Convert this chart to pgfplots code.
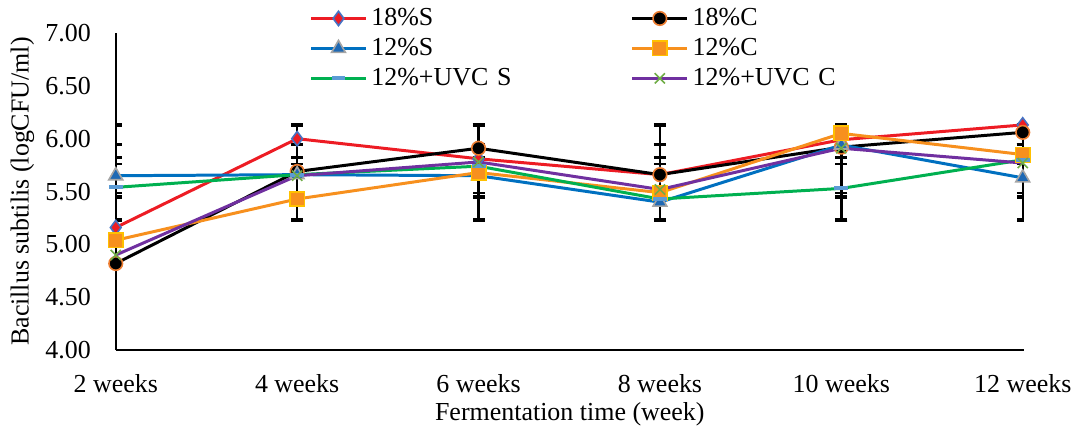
\documentclass[border=0pt]{standalone}
\usepackage{fontspec}
\setmainfont{Liberation Serif}
\usepackage{pgfplots}
\pgfplotsset{compat=1.18}
\definecolor{cRed}{RGB}{237,28,36}
\definecolor{cEdgeBlue}{RGB}{68,114,196}
\definecolor{cOrEdge}{RGB}{237,125,49}
\definecolor{cBlue}{RGB}{0,112,192}
\definecolor{cTri}{RGB}{31,105,180}
\definecolor{cGray}{RGB}{165,165,165}
\definecolor{cOrange}{RGB}{247,144,30}
\definecolor{cGold}{RGB}{255,192,0}
\definecolor{cGreen}{RGB}{0,176,80}
\definecolor{cSteel}{RGB}{91,155,213}
\definecolor{cPurple}{RGB}{112,48,160}
\definecolor{cGreenX}{RGB}{112,173,71}
\begin{document}
\fontsize{13pt}{15pt}\selectfont
\begin{tikzpicture}
\begin{axis}[
  scale only axis, width=455pt, height=159pt,
  xmin=0, xmax=5.006, ymin=4, ymax=7,
  axis lines*=left,
  axis line style={black, line width=1pt},
  xtick={0,1,2,3,4,5},
  xticklabels={2 weeks,4 weeks,6 weeks,8 weeks,10 weeks,12 weeks},
  ytick={4,4.5,5,5.5,6,6.5,7},
  yticklabel style={/pgf/number format/fixed, /pgf/number format/fixed zerofill, /pgf/number format/precision=2, xshift=-8pt},
  /pgf/number format/assume math mode=true,
  major tick length=0pt,
  tick label style={font=\fontsize{13pt}{15pt}\selectfont},
  xticklabel style={yshift=-7.5pt},
  label style={font=\fontsize{13pt}{15pt}\selectfont},
  xlabel={Fermentation time (week)},
  ylabel={Bacillus subtilis (logCFU/ml)},
  xlabel style={yshift=4pt},
  ylabel style={inner sep=0pt},
  ylabel shift=1pt,
  legend columns=2,
  legend image code/.code={\draw[mark repeat=2,mark phase=2,#1] plot coordinates {(0pt,0pt) (13.75pt,0pt) (27.5pt,0pt)};},
  legend style={draw=none, fill=none, inner sep=0pt, at={(0.213,1.094)}, anchor=north west,
    font=\fontsize{13pt}{15pt}\selectfont,
    nodes={inner xsep=2pt, inner ysep=0pt, text height=11pt, text depth=4pt, text width=128pt, align=left},
    cells={anchor=west}, row sep=0pt},
  error bars/y dir=both, error bars/y explicit,
  error bars/error bar style={draw=black, line width=1.2pt},
  error bars/error mark options={draw=black, line width=1.2pt, mark size=3pt, rotate=90},
]
% error bars (series mean +- SD, drawn at every category)
\addplot[draw=none, mark=none, forget plot] coordinates {(0,5.79) +- (0,0.35) (1,5.79) +- (0,0.35) (2,5.79) +- (0,0.35) (3,5.79) +- (0,0.35) (4,5.79) +- (0,0.35) (5,5.79) +- (0,0.35)};
\addplot[draw=none, mark=none, forget plot] coordinates {(0,5.675) +- (0,0.447) (1,5.675) +- (0,0.447) (2,5.675) +- (0,0.447) (3,5.675) +- (0,0.447) (4,5.675) +- (0,0.447) (5,5.675) +- (0,0.447)};
\addplot[draw=none, mark=none, forget plot] coordinates {(0,5.655) +- (0,0.168) (1,5.655) +- (0,0.168) (2,5.655) +- (0,0.168) (3,5.655) +- (0,0.168) (4,5.655) +- (0,0.168) (5,5.655) +- (0,0.168)};
\addplot[draw=none, mark=none, forget plot] coordinates {(0,5.59) +- (0,0.354) (1,5.59) +- (0,0.354) (2,5.59) +- (0,0.354) (3,5.59) +- (0,0.354) (4,5.59) +- (0,0.354) (5,5.59) +- (0,0.354)};
\addplot[draw=none, mark=none, forget plot] coordinates {(0,5.61) +- (0,0.15) (1,5.61) +- (0,0.15) (2,5.61) +- (0,0.15) (3,5.61) +- (0,0.15) (4,5.61) +- (0,0.15) (5,5.61) +- (0,0.15)};
\addplot[draw=none, mark=none, forget plot] coordinates {(0,5.589) +- (0,0.363) (1,5.589) +- (0,0.363) (2,5.589) +- (0,0.363) (3,5.589) +- (0,0.363) (4,5.589) +- (0,0.363) (5,5.589) +- (0,0.363)};
% series
\addplot[cRed, line width=1.5pt, mark=diamond*, mark size=3.6pt, mark options={fill=cRed, draw=cEdgeBlue, line width=0.8pt, solid}, error bars/y dir=none]
  coordinates {(0,5.16) (1,6.00) (2,5.81) (3,5.66) (4,5.99) (5,6.13)};
\addlegendentry{18\%S}
\addplot[black, line width=1.5pt, mark=*, mark size=3.4pt, mark options={fill=black, draw=cOrEdge, line width=0.8pt, solid}, error bars/y dir=none]
  coordinates {(0,4.82) (1,5.69) (2,5.91) (3,5.66) (4,5.92) (5,6.06)};
\addlegendentry{18\%C}
\addplot[cBlue, line width=1.5pt, mark=triangle*, mark size=4pt, mark options={fill=cTri, draw=cGray, line width=0.8pt, solid}, error bars/y dir=none]
  coordinates {(0,5.65) (1,5.66) (2,5.65) (3,5.40) (4,5.94) (5,5.63)};
\addlegendentry{12\%S}
\addplot[cOrange, line width=1.5pt, mark=square*, mark size=3.6pt, mark options={fill=cOrange, draw=cGold, line width=0.8pt, solid}, error bars/y dir=none]
  coordinates {(0,5.04) (1,5.43) (2,5.68) (3,5.49) (4,6.05) (5,5.85)};
\addlegendentry{12\%C}
\addplot[cGreen, line width=1.5pt, mark=-, mark size=3.5pt, mark options={draw=cSteel, line width=2pt, solid}, error bars/y dir=none]
  coordinates {(0,5.54) (1,5.66) (2,5.74) (3,5.43) (4,5.53) (5,5.80)};
\addlegendentry{12\%+UVC S}
\addplot[cPurple, line width=1.5pt, mark=x, mark size=3.6pt, mark options={draw=cGreenX, line width=0.8pt, solid}, error bars/y dir=none]
  coordinates {(0,4.90) (1,5.65) (2,5.78) (3,5.52) (4,5.91) (5,5.77)};
\addlegendentry{12\%+UVC C}
\coordinate (BL) at (rel axis cs:0,0);
\coordinate (TR) at (rel axis cs:1,1);
\end{axis}
\path ([shift={(-58pt,-39.5pt)}]BL) rectangle ([shift={(27pt,16.5pt)}]TR);
\end{tikzpicture}
\end{document}
